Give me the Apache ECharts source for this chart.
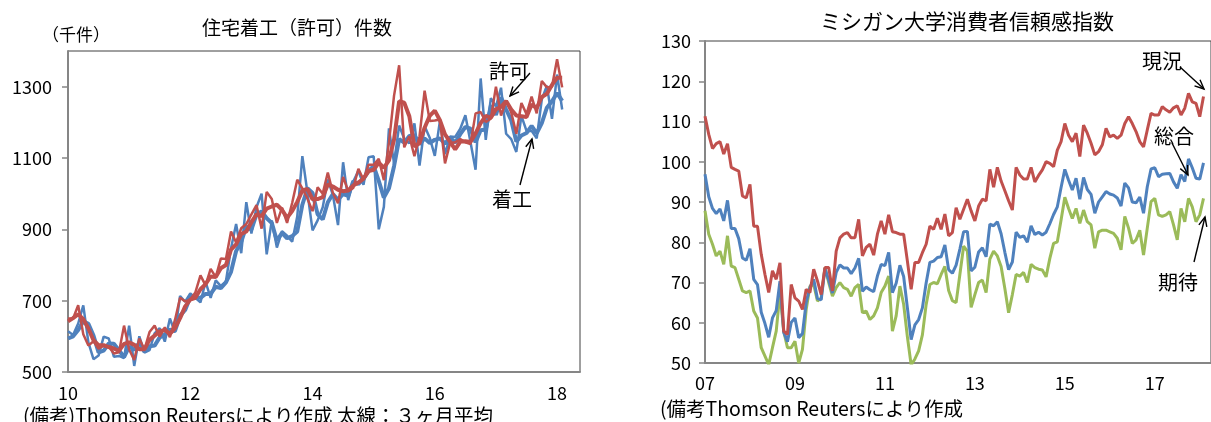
<!DOCTYPE html>
<html>
<head>
<meta charset="utf-8">
<script src="https://cdn.jsdelivr.net/npm/echarts@6/dist/echarts.min.js"></script>
<style>
  html, body { margin: 0; padding: 0; background: #fff; }
  #chart { width: 1211px; height: 422px; }
</style>
</head>
<body>
<div id="chart"></div>
<script>
// 住宅着工・許可（千件、年率）2010/01 - 2018/02
const startsMonthly = [
  614, 604, 636, 687, 583, 536, 546, 599, 594, 543, 545, 539,
  630, 517, 600, 554, 561, 608, 623, 585, 650, 611, 713, 697,
  720, 708, 695, 753, 708, 757, 741, 754, 847, 915, 833, 976,
  888, 962, 1000, 830, 925, 849, 895, 882, 865, 936, 1105, 1003,
  897, 925, 962, 1040, 996, 912, 1088, 982, 1034, 1064, 1025, 1102,
  1105, 900, 963, 1183, 1085, 1191, 1154, 1141, 1197, 1079, 1189, 1157,
  1106, 1203, 1111, 1160, 1159, 1182, 1220, 1145, 1067, 1323, 1151, 1268,
  1244, 1297, 1168, 1153, 1117, 1218, 1176, 1176, 1155, 1264, 1303, 1210,
  1334, 1236
];
const starts3m = [
  594, 600, 618, 642, 635, 602, 555, 560, 580, 579, 561, 542,
  571, 562, 582, 557, 572, 574, 597, 605, 619, 615, 658, 674,
  710, 708, 708, 719, 719, 739, 735, 751, 781, 839, 865, 908,
  899, 942, 950, 931, 918, 868, 890, 875, 881, 894, 969, 1015,
  1002, 942, 928, 976, 999, 983, 999, 994, 1035, 1027, 1041, 1064,
  1077, 1036, 989, 1015, 1077, 1153, 1143, 1162, 1164, 1139, 1155, 1142,
  1151, 1155, 1140, 1158, 1143, 1167, 1187, 1182, 1144, 1178, 1180, 1247,
  1221, 1270, 1236, 1206, 1146, 1163, 1170, 1190, 1169, 1198, 1241, 1259,
  1282, 1260
];
const permitsMonthly = [
  650, 650, 687, 606, 574, 586, 565, 574, 571, 552, 555, 630,
  563, 534, 594, 563, 612, 630, 599, 625, 598, 646, 708, 698,
  703, 723, 771, 743, 789, 766, 818, 817, 894, 863, 903, 915,
  942, 968, 902, 1005, 985, 918, 961, 918, 974, 1039, 1015, 986,
  951, 1018, 1000, 1059, 1002, 973, 1047, 1007, 1016, 1070, 1039, 1081,
  1081, 1098, 1038, 1143, 1275, 1360, 1130, 1161, 1105, 1161, 1289, 1204,
  1205, 1208, 1085, 1142, 1144, 1153, 1144, 1139, 1225, 1229, 1201, 1210,
  1300, 1219, 1260, 1228, 1168, 1254, 1223, 1272, 1225, 1316, 1298, 1300,
  1377, 1298
];
const permits3m = [
  642, 651, 662, 648, 622, 589, 575, 575, 570, 566, 559, 579,
  583, 576, 564, 564, 590, 602, 614, 618, 607, 623, 651, 684,
  703, 708, 732, 746, 768, 766, 791, 800, 843, 858, 887, 894,
  920, 942, 937, 958, 964, 969, 955, 932, 951, 977, 1009, 1013,
  984, 985, 990, 1026, 1020, 1011, 1007, 1009, 1023, 1031, 1042, 1063,
  1067, 1087, 1072, 1093, 1152, 1259, 1255, 1217, 1132, 1142, 1185, 1218,
  1233, 1206, 1166, 1145, 1124, 1146, 1147, 1145, 1169, 1198, 1218, 1213,
  1237, 1243, 1260, 1236, 1219, 1217, 1215, 1250, 1240, 1271, 1280, 1305,
  1325, 1325
];
const housingYearLabels = ['10', '12', '14', '16', '18'];

// ミシガン大学消費者信頼感指数 2007/01 - 2018/02
const sentimentCurrent = [
  111.3, 106.8, 103.3, 104.5, 105.0, 101.9, 104.5, 98.6, 98.1, 97.7, 91.5, 91.0,
  94.4, 84.0, 84.0, 77.0, 72.0, 67.5, 72.9, 70.8, 74.9, 57.9, 57.1, 69.5,
  66.2, 65.4, 63.3, 68.3, 67.5, 73.3, 70.4, 67.0, 73.7, 73.7, 67.9, 77.8,
  81.1, 82.0, 82.4, 81.1, 81.1, 85.7, 76.6, 78.7, 79.5, 76.8, 82.0, 85.3,
  82.0, 86.8, 82.6, 82.4, 82.0, 82.0, 75.3, 68.3, 75.0, 75.0, 77.4, 79.5,
  84.0, 83.2, 86.0, 83.2, 87.0, 81.6, 82.4, 88.6, 85.7, 88.2, 90.7, 87.8,
  85.3, 89.0, 90.7, 90.3, 98.1, 93.7, 98.6, 95.2, 92.8, 90.3, 88.0, 98.6,
  96.7, 95.7, 95.7, 98.6, 95.0, 96.6, 98.0, 100.0, 99.6, 98.8, 102.9, 105.0,
  109.5, 106.6, 105.0, 107.1, 101.3, 109.1, 107.1, 104.6, 101.7, 102.5, 104.2, 108.3,
  106.2, 106.6, 105.8, 106.6, 109.5, 111.2, 109.5, 107.5, 105.0, 103.7, 107.9, 112.0,
  111.6, 111.6, 113.7, 112.9, 112.3, 113.4, 113.9, 111.6, 113.3, 117.0, 114.9, 114.5,
  111.2, 116.2
];
const sentimentTotal = [
  96.9, 91.3, 88.4, 87.1, 88.3, 85.3, 90.4, 83.4, 83.4, 80.9, 76.1, 75.5,
  78.4, 70.8, 69.5, 62.6, 59.8, 56.4, 61.2, 63.0, 70.3, 57.6, 55.3, 60.1,
  61.2, 56.3, 57.3, 65.1, 68.7, 70.8, 66.0, 65.7, 73.5, 70.6, 67.4, 72.5,
  74.4, 73.6, 73.6, 72.2, 73.6, 76.0, 67.8, 68.9, 68.2, 67.7, 71.6, 74.5,
  74.2, 77.5, 67.5, 69.8, 74.3, 71.5, 63.7, 55.8, 59.5, 60.8, 63.7, 69.9,
  75.0, 75.3, 76.2, 76.4, 79.3, 73.2, 72.3, 74.3, 78.3, 82.6, 82.7, 72.9,
  73.8, 77.6, 78.6, 76.4, 84.5, 84.1, 85.1, 82.1, 77.5, 73.2, 75.1, 82.5,
  81.2, 81.6, 80.0, 84.1, 81.9, 82.5, 81.8, 82.5, 84.6, 86.9, 88.8, 93.6,
  98.1, 95.4, 93.0, 95.9, 90.7, 96.1, 93.1, 91.9, 87.2, 90.0, 91.3, 92.6,
  92.0, 91.7, 91.0, 89.0, 94.7, 93.5, 90.0, 89.8, 91.2, 87.2, 93.8, 98.2,
  98.5, 96.3, 96.9, 97.0, 97.1, 95.0, 93.4, 96.8, 95.1, 100.7, 98.5, 95.9,
  95.7, 99.7
];
const sentimentExpect = [
  87.8, 82.0, 79.5, 76.6, 77.8, 74.5, 81.6, 74.1, 73.7, 70.8, 67.9, 67.5,
  67.9, 62.9, 61.2, 53.8, 51.7, 49.6, 53.8, 57.9, 67.5, 57.9, 53.8, 53.8,
  55.4, 50.0, 53.4, 63.3, 69.1, 69.5, 65.4, 66.2, 73.7, 70.0, 66.6, 68.7,
  70.0, 68.7, 68.3, 66.6, 68.7, 69.5, 62.5, 62.9, 60.8, 61.7, 63.7, 67.5,
  69.1, 71.6, 57.9, 61.7, 69.1, 64.6, 56.5, 49.5, 51.0, 53.0, 57.0, 64.5,
  69.5, 70.0, 69.7, 72.0, 74.0, 68.0, 65.5, 65.0, 72.0, 79.0, 77.8, 63.8,
  67.0, 70.0, 70.6, 67.5, 75.8, 77.8, 76.6, 74.0, 68.5, 62.5, 67.0, 72.0,
  71.6, 72.5, 70.0, 74.5, 73.7, 73.3, 73.1, 71.4, 76.0, 79.7, 80.1, 85.5,
  91.2, 88.4, 85.9, 88.4, 84.7, 88.0, 85.1, 84.3, 78.5, 82.6, 83.0, 83.0,
  82.6, 82.2, 81.0, 78.1, 86.4, 83.5, 79.7, 80.6, 83.0, 76.8, 83.5, 90.1,
  90.9, 86.8, 86.4, 86.8, 87.6, 84.3, 80.6, 88.4, 85.1, 90.9, 88.8, 85.1,
  86.8, 90.9
];
const sentimentYearLabels = ['07', '09', '11', '13', '15', '17'];

const FONT = '"Noto Sans CJK JP", "Noto Sans", sans-serif';
const RED = '#C0504D', BLUE = '#4F81BD', GREEN = '#9BBB59';

const chart = echarts.init(document.getElementById('chart'));

function monthly(values) {
  return values.map((v, i) => [i, v]);
}

function lineSeries(name, values, color, width, axis) {
  return {
    name,
    type: 'line',
    xAxisIndex: axis,
    yAxisIndex: axis,
    data: monthly(values),
    showSymbol: false,
    symbol: 'none',
    animation: false,
    lineStyle: { color, width },
    itemStyle: { color },
  };
}

function text(str, x, y, size, align) {
  return {
    type: 'text', x, y, z: 20,
    style: {
      text: str, fill: '#000', fontSize: size, fontFamily: FONT,
      textAlign: align || 'center', textVerticalAlign: 'middle',
      align: align || 'center', verticalAlign: 'middle',
    },
  };
}

function arrow(x1, y1, x2, y2) {
  const a = Math.atan2(y2 - y1, x2 - x1), len = 10, spread = 0.42;
  const p1 = [x2 - len * Math.cos(a - spread), y2 - len * Math.sin(a - spread)];
  const p2 = [x2 - len * Math.cos(a + spread), y2 - len * Math.sin(a + spread)];
  const style = { stroke: '#000', lineWidth: 1.4, fill: null };
  return [
    { type: 'line', z: 20, shape: { x1, y1, x2, y2 }, style },
    { type: 'polyline', z: 20, shape: { points: [p1, [x2, y2], p2] }, style },
  ];
}

const axisLabelStyle = { color: '#000', fontSize: 18, fontFamily: FONT };
const axisLineStyle = { show: true, lineStyle: { color: '#868686', width: 2 } };

chart.setOption({
  animation: false,
  grid: [
    { left: 68, top: 51, width: 512, height: 321, show: true, borderColor: '#404040', borderWidth: 1 },
    { left: 705, top: 41, width: 513, height: 322, show: true, borderColor: '#404040', borderWidth: 1 },
  ],
  xAxis: [
    {
      gridIndex: 0, type: 'value', min: 0, max: 100.5, interval: 24,
      axisLine: axisLineStyle, axisTick: { show: false }, splitLine: { show: false },
      axisLabel: { ...axisLabelStyle, margin: 12, showMaxLabel: false,
        formatter: (v) => housingYearLabels[v / 24] || '' },
    },
    {
      gridIndex: 1, type: 'value', min: 0, max: 135, interval: 24,
      axisLine: axisLineStyle, axisTick: { show: false }, splitLine: { show: false },
      axisLabel: { ...axisLabelStyle, margin: 11, showMaxLabel: false,
        formatter: (v) => sentimentYearLabels[v / 24] || '' },
    },
  ],
  yAxis: [
    {
      gridIndex: 0, type: 'value', min: 500, max: 1400, interval: 200,
      axisLine: axisLineStyle, splitLine: { show: false },
      axisTick: { show: true, inside: false, length: 6, lineStyle: { color: '#868686', width: 1.5 } },
      axisLabel: { ...axisLabelStyle, margin: 16, showMaxLabel: false, formatter: (v) => String(v) },
    },
    {
      gridIndex: 1, type: 'value', min: 50, max: 130, interval: 10,
      axisLine: axisLineStyle, splitLine: { show: false },
      axisTick: { show: true, inside: false, length: 6, lineStyle: { color: '#868686', width: 1.5 } },
      axisLabel: { ...axisLabelStyle, margin: 14, formatter: (v) => String(v) },
    },
  ],
  series: [
    lineSeries('着工', startsMonthly, BLUE, 2.5, 0),
    lineSeries('着工3ヶ月平均', starts3m, BLUE, 4, 0),
    lineSeries('許可', permitsMonthly, RED, 2.5, 0),
    lineSeries('許可3ヶ月平均', permits3m, RED, 4, 0),
    lineSeries('期待', sentimentExpect, GREEN, 3, 1),
    lineSeries('総合', sentimentTotal, BLUE, 3, 1),
    lineSeries('現況', sentimentCurrent, RED, 3, 1),
  ],
  graphic: [
    text('住宅着工（許可）件数', 297, 28, 19),
    text('（千件）', 76, 35, 17),
    text('(備考)Thomson Reutersにより作成 太線：３ヶ月平均', 23, 416, 19.5, 'left'),
    text('許可', 509, 71, 20),
    ...arrow(530, 73, 510, 96),
    text('着工', 512, 199, 20),
    ...arrow(520, 185, 532, 139),

    text('ミシガン大学消費者信頼感指数', 967, 21, 21),
    text('(備考Thomson Reutersにより作成', 660, 409, 19.5, 'left'),
    text('現況', 1162, 61, 20),
    ...arrow(1180, 67, 1204, 89),
    text('総合', 1174, 136, 20),
    ...arrow(1172, 143, 1188, 175),
    text('期待', 1178, 282, 20),
    ...arrow(1194, 262, 1205, 217),
  ],
});
</script>
</body>
</html>
